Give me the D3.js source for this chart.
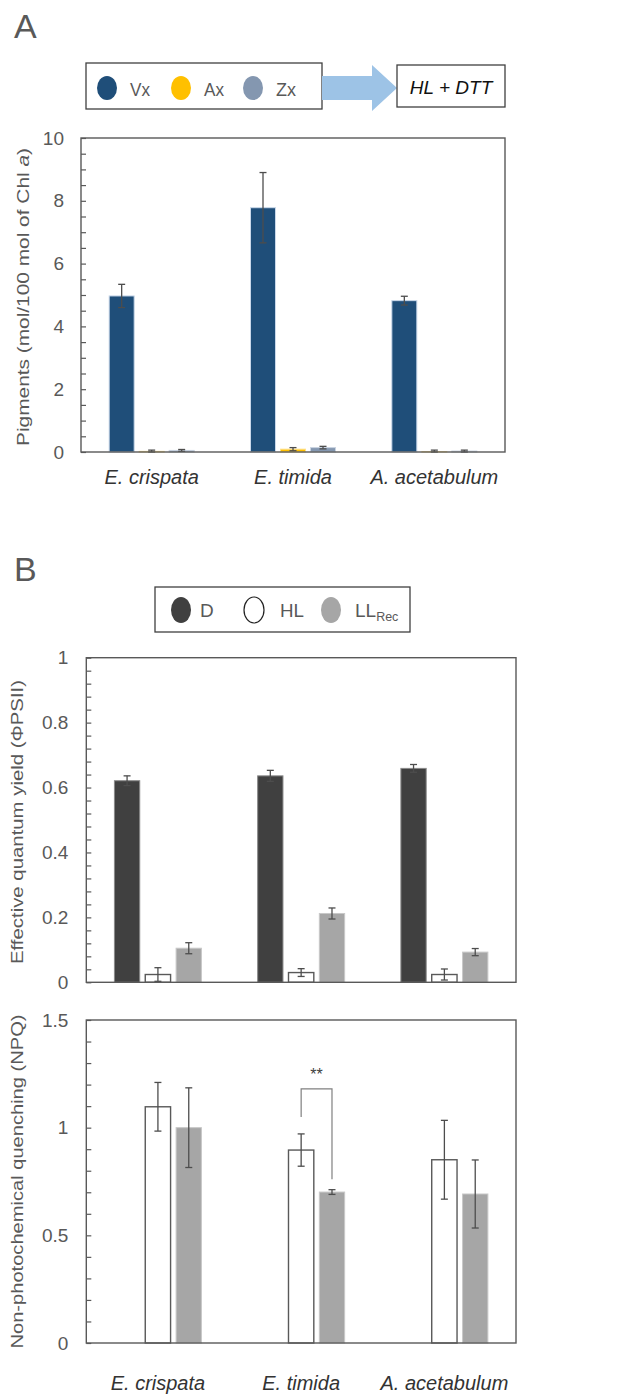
<!DOCTYPE html>
<html><head><meta charset="utf-8">
<script src="https://cdn.jsdelivr.net/npm/d3@7"></script>
<style>
html,body{margin:0;padding:0;background:#fff;}
svg{display:block;font-family:"Liberation Sans",Arial,sans-serif;}
</style></head>
<body>
<svg id="fig" width="644" height="1395"></svg>
<script>
// ---------- data ----------
const categories = ["E. crispata", "E. timida", "A. acetabulum"];

// Panel A: pigments (mol/100 mol of Chl a)
const pigmentSeries = ["Vx", "Ax", "Zx"];
const vxValues = [4.97, 7.78, 4.82];
const vxErrors = [0.37, 1.12, 0.14];
const axValues = [0.02, 0.09, 0.01];
const axErrors = [0.04, 0.05, 0.05];
const zxValues = [0.05, 0.14, 0.03];
const zxErrors = [0.03, 0.04, 0.03];
const pigmentTicks = [0, 2, 4, 6, 8, 10];

// Panel B: effective quantum yield and NPQ
const treatmentSeries = ["D", "HL", "LLRec"];
const phiD = [0.621, 0.636, 0.659];
const phiDErr = [0.015, 0.017, 0.012];
const phiHL = [0.024, 0.030, 0.024];
const phiHLErr = [0.021, 0.012, 0.017];
const phiLL = [0.105, 0.212, 0.093];
const phiLLErr = [0.017, 0.017, 0.011];
const phiTicks = [0, 0.2, 0.4, 0.6, 0.8, 1];

const npqHL = [1.097, 0.896, 0.851];
const npqHLErr = [0.113, 0.075, 0.183];
const npqLL = [1.0, 0.701, 0.692];
const npqLLErr = [0.185, 0.011, 0.158];
const npqTicks = [0, 0.5, 1, 1.5];

// significance bracket (E. timida, HL vs LLRec) in NPQ units
const sigCategory = "E. timida";
const sigLeftFrom = 1.05, sigTop = 1.18, sigRightTo = 0.76;
const sigLabel = "**";

// ---------- styles ----------
const axisGrey = "#595959";
const textGrey = "#595959";
const pigmentColors = {Vx: "#1F4E79", Ax: "#FFC000", Zx: "#8497B0"};
const pigmentStroke = {Vx: "#c9d8ea", Ax: "#ffe08a", Zx: "#c9d3e0"};
const treatFill = {D: "#404040", HL: "#ffffff", LLRec: "#A6A6A6"};
const treatStroke = {D: "#8a8a8a", HL: "#595959", LLRec: "#c8c8c8"};

const svg = d3.select("#fig");

function drawPanel(opts) {
  const {x0, x1, yTop, yBot, max, minorStep, ticks, series, values, errors,
         fills, strokes, strokeW, drawSeries, title, titleLen, titleX} = opts;
  const g = svg.append("g");
  const x = d3.scaleBand().domain(categories).range([x0, x1]).padding(0);
  const inner = d3.scaleBand().domain(series)
      .range([-opts.groupW / 2, opts.groupW / 2]).paddingInner(opts.innerPad).paddingOuter(0);
  const y = d3.scaleLinear().domain([0, max]).range([yBot, yTop]);

  // bars
  drawSeries.forEach(s => {
    categories.forEach((c, ci) => {
      const v = values[s][ci];
      const cx = x(c) + x.bandwidth() / 2 + inner(s);
      g.append("rect")
        .attr("x", cx).attr("y", y(v))
        .attr("width", inner.bandwidth()).attr("height", y(0) - y(v))
        .attr("fill", fills[s]).attr("stroke", strokes[s])
        .attr("stroke-width", strokeW[s]);
    });
  });
  // error bars
  drawSeries.forEach(s => {
    categories.forEach((c, ci) => {
      const v = values[s][ci], e = errors[s][ci];
      const mx = x(c) + x.bandwidth() / 2 + inner(s) + inner.bandwidth() / 2;
      const eb = g.append("g").attr("stroke", "#4d4d4d").attr("stroke-width", 1.3);
      eb.append("line").attr("x1", mx).attr("x2", mx).attr("y1", y(v + e)).attr("y2", y(Math.max(0, v - e)));
      eb.append("line").attr("x1", mx - 3.5).attr("x2", mx + 3.5).attr("y1", y(v + e)).attr("y2", y(v + e));
      eb.append("line").attr("x1", mx - 3.5).attr("x2", mx + 3.5).attr("y1", y(Math.max(0, v - e))).attr("y2", y(Math.max(0, v - e)));
    });
  });

  // minor + major ticks (inward)
  const n = Math.round(max / minorStep);
  const minor = d3.range(0, n + 1).map(i => +(i * minorStep).toFixed(4));
  const ax = d3.axisLeft(y).tickValues(minor).tickSize(-5).tickFormat("");
  const axg = g.append("g").attr("transform", `translate(${x0},0)`).call(ax);
  axg.select(".domain").remove();
  axg.selectAll("line").attr("stroke", axisGrey).attr("stroke-width", 1.2);

  const lab = d3.axisLeft(y).tickValues(ticks).tickSize(0).tickPadding(opts.tickPad)
      .tickFormat(d => String(+d.toFixed(2)));
  const lg = g.append("g").attr("transform", `translate(${x0},0)`).call(lab);
  lg.select(".domain").remove();
  lg.selectAll("text").attr("fill", textGrey).attr("font-size", 19)
     .attr("font-family", '"Liberation Sans",Arial,sans-serif');

  // frame
  g.append("rect").attr("x", x0).attr("y", yTop).attr("width", x1 - x0).attr("height", yBot - yTop)
    .attr("fill", "none").attr("stroke", axisGrey).attr("stroke-width", 1.4);

  // y title
  g.append("text")
    .attr("transform", `translate(${titleX},${(yTop + yBot) / 2 + opts.titleShift}) rotate(-90)`)
    .attr("text-anchor", "middle").attr("fill", textGrey).attr("font-size", 16.5)
    .attr("textLength", titleLen).attr("lengthAdjust", "spacingAndGlyphs")
    .html(title);

  return {x, y, inner, g};
}

// ---------- Panel A ----------
svg.append("text").attr("x", 14).attr("y", 38).attr("font-size", 34).attr("fill", textGrey).text("A");

// legend A
const legA = svg.append("g");
legA.append("rect").attr("x", 86).attr("y", 63).attr("width", 236).attr("height", 46)
  .attr("fill", "#fff").attr("stroke", "#404040").attr("stroke-width", 1.3);
const legAx = {Vx: 107, Ax: 181, Zx: 253};
pigmentSeries.forEach(s => {
  legA.append("ellipse").attr("cx", legAx[s]).attr("cy", 88).attr("rx", 10).attr("ry", 12)
    .attr("fill", pigmentColors[s]);
  legA.append("text").attr("x", legAx[s] + 23).attr("y", 96).attr("font-size", 19)
    .attr("fill", textGrey).attr("textLength", 20).attr("lengthAdjust", "spacingAndGlyphs").text(s);
});
// arrow
svg.append("polygon")
  .attr("points", "322,76 372,76 372,65 397,88 372,111 372,100 322,100")
  .attr("fill", "#9DC3E6");
svg.append("rect").attr("x", 397).attr("y", 65).attr("width", 108).attr("height", 42)
  .attr("fill", "#fff").attr("stroke", "#404040").attr("stroke-width", 1.3);
svg.append("text").attr("x", 451).attr("y", 94).attr("text-anchor", "middle")
  .attr("font-size", 19).attr("font-style", "italic").attr("fill", "#111").text("HL + DTT");

const pA = drawPanel({
  x0: 81, x1: 505, yTop: 138, yBot: 452, max: 10, minorStep: 0.5, ticks: pigmentTicks,
  series: pigmentSeries,
  values: {Vx: vxValues, Ax: axValues, Zx: zxValues},
  errors: {Vx: vxErrors, Ax: axErrors, Zx: zxErrors},
  fills: pigmentColors, strokes: pigmentStroke, strokeW: {Vx: 1, Ax: 1, Zx: 1},
  drawSeries: pigmentSeries, groupW: 85, innerPad: 5 / 30, tickPad: 17,
  title: 'Pigments (mol/100 mol of Chl <tspan font-style="italic">a</tspan>)',
  titleLen: 298, titleX: 29, titleShift: 2
});
categories.forEach(c => {
  svg.append("text").attr("x", pA.x(c) + pA.x.bandwidth() / 2).attr("y", 484)
    .attr("text-anchor", "middle").attr("font-size", 20).attr("font-style", "italic")
    .attr("fill", "#333").text(c);
});

// ---------- Panel B ----------
svg.append("text").attr("x", 14).attr("y", 581).attr("font-size", 34).attr("fill", textGrey).text("B");

const legB = svg.append("g");
legB.append("rect").attr("x", 155).attr("y", 587).attr("width", 255).attr("height", 45)
  .attr("fill", "#fff").attr("stroke", "#404040").attr("stroke-width", 1.3);
const legBx = {D: 181, HL: 254, LLRec: 331};
treatmentSeries.forEach(s => {
  legB.append("ellipse").attr("cx", legBx[s]).attr("cy", 610).attr("rx", 10).attr("ry", 13)
    .attr("fill", treatFill[s]).attr("stroke", s === "HL" ? "#222" : "none").attr("stroke-width", 1.2);
});
legB.append("text").attr("x", 200).attr("y", 617).attr("font-size", 19).attr("fill", textGrey).text("D");
legB.append("text").attr("x", 280).attr("y", 617).attr("font-size", 19).attr("fill", textGrey)
  .attr("textLength", 24).attr("lengthAdjust", "spacingAndGlyphs").text("HL");
const llt = legB.append("text").attr("x", 355).attr("y", 617).attr("font-size", 19).attr("fill", textGrey);
llt.append("tspan").text("LL");
llt.append("tspan").attr("font-size", 12.5).attr("dy", 4).text("Rec");

const pB1 = drawPanel({
  x0: 86.3, x1: 516, yTop: 657.7, yBot: 982.3, max: 1, minorStep: 0.04, ticks: phiTicks,
  series: treatmentSeries,
  values: {D: phiD, HL: phiHL, LLRec: phiLL},
  errors: {D: phiDErr, HL: phiHLErr, LLRec: phiLLErr},
  fills: treatFill, strokes: treatStroke, strokeW: {D: 1, HL: 1.4, LLRec: 1},
  drawSeries: treatmentSeries, groupW: 87, innerPad: 5.5 / 30.7, tickPad: 18,
  title: "Effective quantum yield (ΦPSII)", titleLen: 284, titleX: 23, titleShift: 2
});

const pB2 = drawPanel({
  x0: 86.3, x1: 516, yTop: 1020, yBot: 1343, max: 1.5, minorStep: 0.1, ticks: npqTicks,
  series: treatmentSeries,
  values: {D: phiD, HL: npqHL, LLRec: npqLL},
  errors: {D: phiDErr, HL: npqHLErr, LLRec: npqLLErr},
  fills: treatFill, strokes: treatStroke, strokeW: {D: 1, HL: 1.4, LLRec: 1},
  drawSeries: ["HL", "LLRec"], groupW: 87, innerPad: 5.5 / 30.7, tickPad: 18,
  title: "Non-photochemical quenching (NPQ)", titleLen: 334, titleX: 23, titleShift: 0
});

// significance bracket
{
  const {x, y, inner} = pB2;
  const cx = x(sigCategory) + x.bandwidth() / 2;
  const xl = cx + inner("HL") + inner.bandwidth() / 2;
  const xr = cx + inner("LLRec") + inner.bandwidth() / 2;
  svg.append("path")
    .attr("d", `M${xl},${y(sigLeftFrom)} L${xl},${y(sigTop)} L${xr},${y(sigTop)} L${xr},${y(sigRightTo)}`)
    .attr("fill", "none").attr("stroke", "#808080").attr("stroke-width", 1.2);
  svg.append("text").attr("x", (xl + xr) / 2).attr("y", y(sigTop) - 9).attr("text-anchor", "middle")
    .attr("font-size", 16).attr("fill", "#404040").text(sigLabel);
}

categories.forEach(c => {
  svg.append("text").attr("x", pB2.x(c) + pB2.x.bandwidth() / 2).attr("y", 1390)
    .attr("text-anchor", "middle").attr("font-size", 20).attr("font-style", "italic")
    .attr("fill", "#333").text(c);
});
</script>
</body></html>
